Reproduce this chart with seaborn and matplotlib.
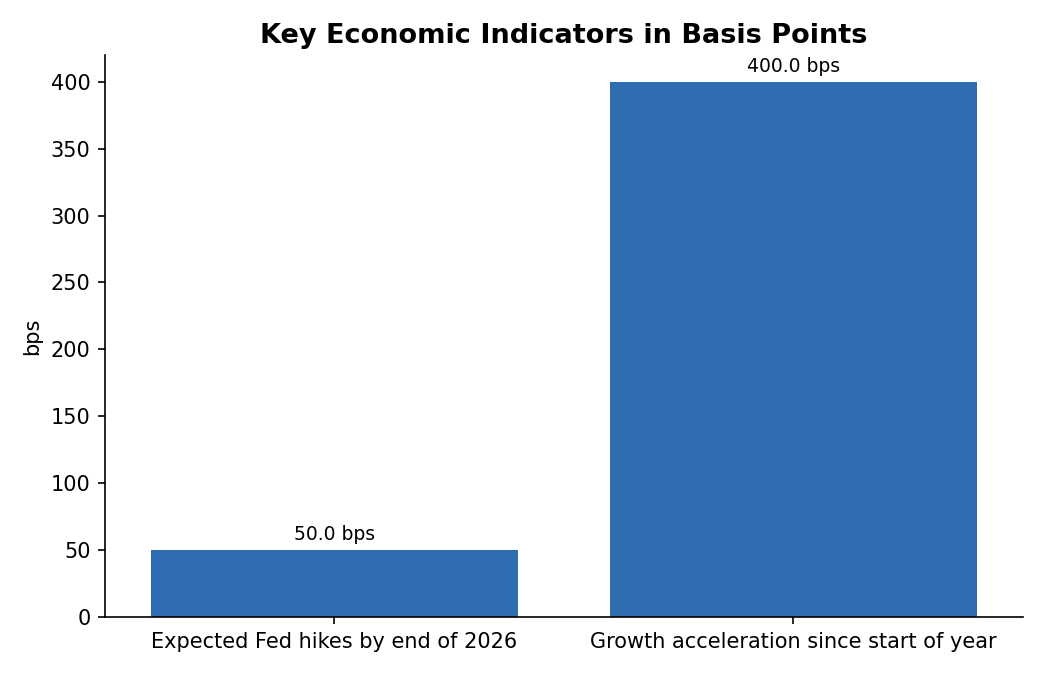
import matplotlib
matplotlib.use("Agg")
import matplotlib.pyplot as plt
import seaborn as sns
import pandas as pd

categories = ["Expected Fed hikes by end of 2026", "Growth acceleration since start of year"]
values = [50.0, 400.0]

sns.set_style("ticks", {"axes.edgecolor": "black", "text.color": "black",
                        "axes.labelcolor": "black", "xtick.color": "black",
                        "ytick.color": "black"})
plt.rcParams['font.family'] = ['DejaVu Sans']

df = pd.DataFrame({"category": categories, "bps": values})

fig, ax = plt.subplots(figsize=(7, 4.5), dpi=150)
sns.barplot(data=df, x="category", y="bps", color="#2d6db0", saturation=1, width=0.8,
            linewidth=0, ax=ax)
for p, v in zip(ax.patches, values):
    ax.annotate(f"{v:.1f} bps", (p.get_x() + p.get_width() / 2, p.get_height()),
                xytext=(0, 3), textcoords="offset points", ha="center", va="bottom", fontsize=9)
ax.set_title("Key Economic Indicators in Basis Points", fontsize=13, fontweight="bold")
ax.set_xlabel("")
ax.set_ylabel("bps", fontsize=10)
ax.tick_params(labelsize=10)
sns.despine(ax=ax)
fig.subplots_adjust(left=0.1, right=0.974, top=0.9185, bottom=0.086)
fig.savefig("out.png", dpi=150)
